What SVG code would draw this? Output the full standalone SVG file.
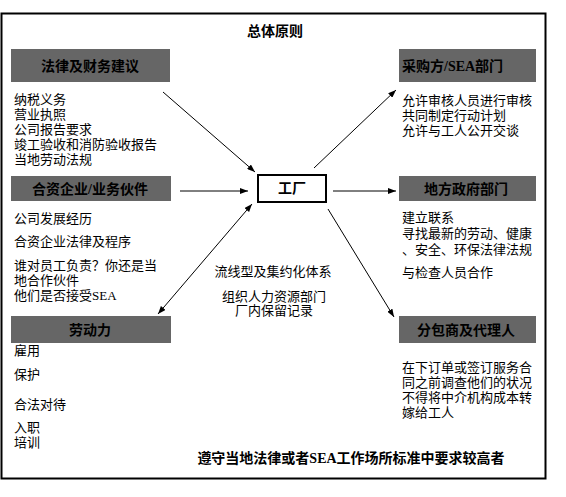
<svg xmlns="http://www.w3.org/2000/svg" width="566" height="497" viewBox="0 0 566 497">
<defs>
<style>
text{font-family:"Liberation Serif","Noto Sans CJK SC",serif;fill:#000;dominant-baseline:central}
.t{font-size:13px}
.h{font-size:14px;font-weight:bold}
.hdr{fill:#666;stroke:none}
.c{text-anchor:middle}
.ln{stroke:#000;stroke-width:1;fill:none}
</style>
<marker id="ah" viewBox="0 0 8 6" refX="8" refY="3" markerWidth="8" markerHeight="6" markerUnits="userSpaceOnUse" orient="auto-start-reverse">
<path d="M0,0 L8,3 L0,6 z" fill="#000"/>
</marker>
</defs>
<rect x="0" y="0" width="566" height="497" fill="#fff"/>
<rect x="1.5" y="13.5" width="544" height="465" fill="#fff" stroke="#000" stroke-width="2"/>
<g id="title"><text class="h c" x="275" y="31">总体原则</text></g>

<g id="legal">
<rect class="hdr" x="11" y="49" width="159" height="33"/>
<text class="h c" x="90" y="66">法律及财务建议</text>
<text class="t" x="14" y="99">纳税义务</text>
<text class="t" x="14" y="114">营业执照</text>
<text class="t" x="14" y="129">公司报告要求</text>
<text class="t" x="14" y="144">竣工验收和消防验收报告</text>
<text class="t" x="14" y="159">当地劳动法规</text>
</g>

<g id="partner">
<rect class="hdr" x="11" y="176" width="160" height="25"/>
<text class="h c" x="90" y="189">合资企业/业务伙件</text>
<text class="t" x="14" y="218">公司发展经历</text>
<text class="t" x="14" y="241">合资企业法律及程序</text>
<text class="t" x="14" y="265">谁对员工负责？你还是当</text>
<text class="t" x="14" y="280">地合作伙件</text>
<text class="t" x="14" y="295">他们是否接受SEA</text>
</g>

<g id="labor">
<rect class="hdr" x="11" y="316" width="160" height="27"/>
<text class="h c" x="90" y="330">劳动力</text>
<text class="t" x="14" y="350">雇用</text>
<text class="t" x="14" y="374">保护</text>
<text class="t" x="14" y="404">合法对待</text>
<text class="t" x="14" y="427">入职</text>
<text class="t" x="14" y="442">培训</text>
</g>

<g id="factory">
<rect x="258" y="175" width="68" height="27" fill="#fff" stroke="#000" stroke-width="2"/>
<text class="h c" x="292" y="188.5">工厂</text>
</g>

<g id="center-notes">
<text class="t c" x="273" y="271">流线型及集约化体系</text>
<text class="t c" x="274" y="296">组织人力资源部门</text>
<text class="t c" x="274" y="310">厂内保留记录</text>
</g>

<g id="buyer">
<rect class="hdr" x="399" y="49" width="137" height="33"/>
<text class="h" x="402" y="66">采购方/SEA部门</text>
<text class="t" x="402" y="100">允许审核人员进行审核</text>
<text class="t" x="402" y="115">共同制定行动计划</text>
<text class="t" x="402" y="130">允许与工人公开交谈</text>
</g>

<g id="gov">
<rect class="hdr" x="399" y="176" width="137" height="25"/>
<text class="h c" x="466" y="189">地方政府部门</text>
<text class="t" x="402" y="217">建立联系</text>
<text class="t" x="402" y="233">寻找最新的劳动、健康</text>
<text class="t" x="402" y="249">、安全、环保法律法规</text>
<text class="t" x="402" y="272">与检查人员合作</text>
</g>

<g id="sub">
<rect class="hdr" x="399" y="316" width="137" height="27"/>
<text class="h c" x="466" y="330">分包商及代理人</text>
<text class="t" x="402" y="367">在下订单或签订服务合</text>
<text class="t" x="402" y="382">同之前调查他们的状况</text>
<text class="t" x="402" y="397">不得将中介机构成本转</text>
<text class="t" x="402" y="412">嫁给工人</text>
</g>

<g id="footer"><text class="h c" x="351" y="458">遵守当地法律或者SEA工作场所标准中要求较高者</text></g>

<g id="connectors">
<line class="ln" x1="163" y1="92" x2="255" y2="172" marker-end="url(#ah)"/>
<line class="ln" x1="180" y1="191" x2="248" y2="191" marker-end="url(#ah)"/>
<line class="ln" x1="252" y1="204" x2="158" y2="314" marker-start="url(#ah)" marker-end="url(#ah)"/>
<line class="ln" x1="314" y1="168" x2="396" y2="90" marker-end="url(#ah)"/>
<line class="ln" x1="333" y1="191" x2="396" y2="191" marker-end="url(#ah)"/>
<line class="ln" x1="328" y1="209" x2="394" y2="317" marker-end="url(#ah)"/>
</g>
</svg>
